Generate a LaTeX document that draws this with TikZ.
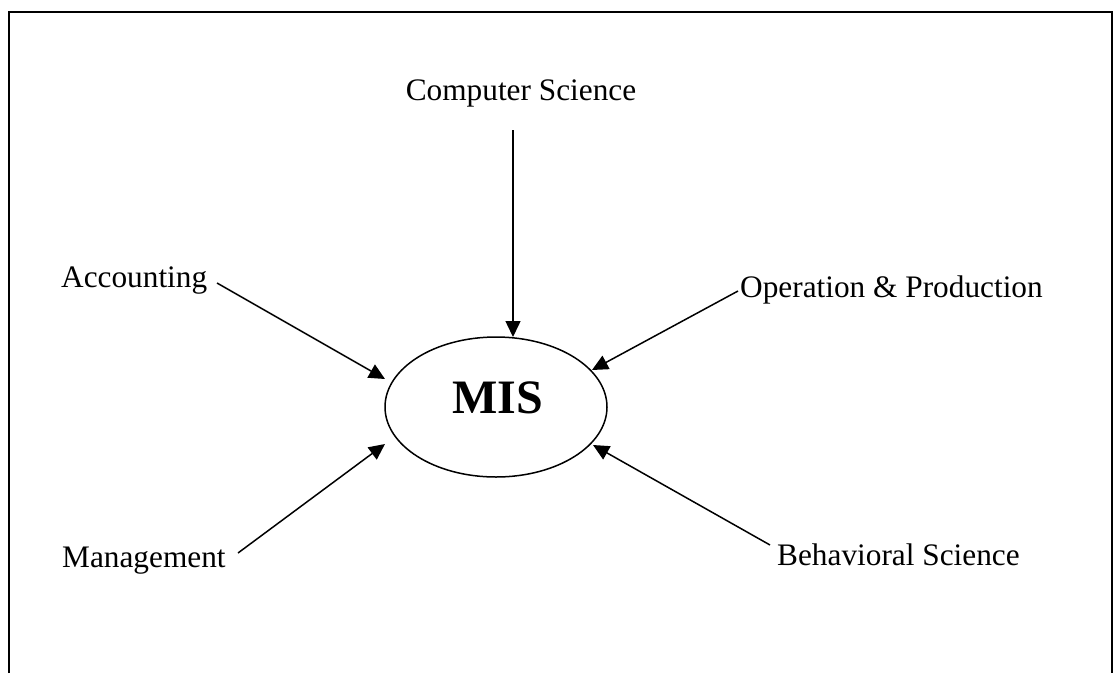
\documentclass[tikz,border=0pt]{standalone}
\usepackage{fontspec}
\setmainfont{Liberation Serif}
\usetikzlibrary{arrows.meta,shapes.geometric}
\begin{document}
\begin{tikzpicture}[x=1pt,y=-1pt,
  lbl/.style={inner sep=0pt,font=\fontsize{31.3}{37}\selectfont},
  arr/.style={-{Triangle[length=16pt,width=15pt]}, line width=1.5pt},
  frame/.style={line width=2pt}]
\useasboundingbox (0,0) rectangle (1118,673);
\draw[frame] (9,673) -- (9,12) -- (1112,12) -- (1112,673);
\node[draw, ellipse, line width=1.5pt, minimum width=222pt, minimum height=140pt, inner sep=0pt] (mis) at (496,407) {};
\node[inner sep=0pt, anchor=base, font=\fontsize{48}{56}\selectfont\bfseries] (mistext) at (497.5,413) {MIS};
\node[lbl, anchor=base] (cs) at (521,100) {Computer Science};
\node[lbl, anchor=base west] (acc) at (61,287) {Accounting};
\node[lbl, anchor=base west] (op) at (740,297) {Operation \& Production};
\node[lbl, anchor=base west] (mgt) at (62,567) {Management};
\node[lbl, anchor=base west] (bs) at (777,565) {Behavioral Science};
\coordinate (csOut) at (513,130);
\coordinate (csIn) at (513,337);
\coordinate (accOut) at (217,283);
\coordinate (accIn) at (385,379);
\coordinate (opOut) at (738,291);
\coordinate (opIn) at (592,370);
\coordinate (mgtOut) at (238,553);
\coordinate (mgtIn) at (385,444);
\coordinate (bsOut) at (770,545);
\coordinate (bsIn) at (593,445);
\draw[arr] (csOut) -- (csIn);
\draw[arr] (accOut) -- (accIn);
\draw[arr] (opOut) -- (opIn);
\draw[arr] (mgtOut) -- (mgtIn);
\draw[arr] (bsOut) -- (bsIn);
\end{tikzpicture}
\end{document}
